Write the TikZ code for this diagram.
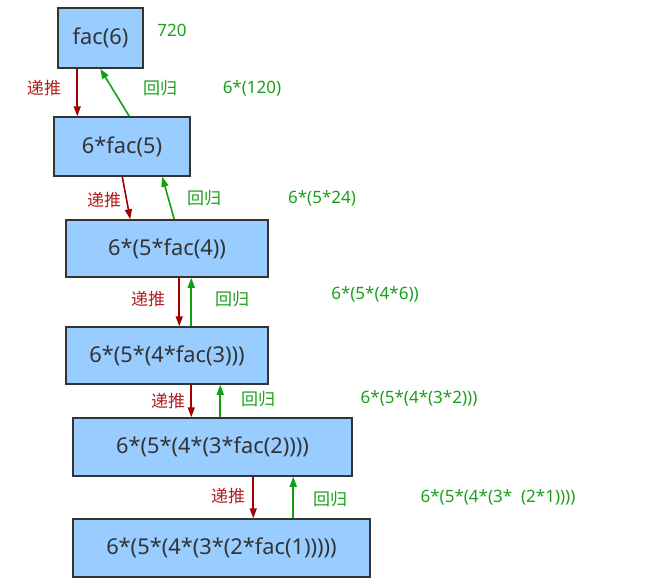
\documentclass[tikz,border=0pt]{standalone}
\usepackage{fontspec}
\setmainfont{Noto Sans}
\newfontfamily\cjk{Noto Sans CJK SC}
\usetikzlibrary{arrows.meta}
\definecolor{boxfill}{HTML}{99CCFF}
\definecolor{boxline}{HTML}{333333}
\definecolor{redarr}{HTML}{A00000}
\definecolor{redtxt}{HTML}{B02020}
\definecolor{grnarr}{HTML}{10A010}
\definecolor{grntxt}{HTML}{1AA01A}
\tikzset{
  box/.style={draw=boxline, line width=1.5pt, fill=boxfill, inner sep=0pt, anchor=center,
              font=\fontsize{21.8}{24}\selectfont, text=boxline},
  down/.style={draw=redarr, line width=1.6pt, -{Triangle[length=10pt,width=7pt]}},
  up/.style={draw=grnarr, line width=1.6pt, -{Triangle[length=10pt,width=7pt]}},
  dlab/.style={font=\cjk\fontsize{17}{18}\selectfont, text=redtxt, inner sep=0pt},
  ulab/.style={font=\cjk\fontsize{17}{18}\selectfont, text=grntxt, inner sep=0pt},
  vlab/.style={font=\fontsize{17}{19}\selectfont, text=grntxt, inner sep=0pt},
}
\begin{document}
\begin{tikzpicture}[x=1pt,y=-1pt]
\useasboundingbox (0,0) rectangle (655,581);
\node[box, minimum width=85pt, minimum height=60pt] (b1) at (100.5,38) {fac(6)};
\node[box, minimum width=136pt, minimum height=59pt] (b2) at (122,146.5) {6*fac(5)};
\node[box, minimum width=202pt, minimum height=57pt] (b3) at (167,248.5) {6*(5*fac(4))};
\node[box, minimum width=202pt, minimum height=57pt] (b4) at (167,355.5) {6*(5*(4*fac(3)))};
\node[box, minimum width=279pt, minimum height=58pt] (b5) at (212.5,447) {6*(5*(4*(3*fac(2))))};
\node[box, minimum width=297pt, minimum height=58pt] (b6) at (221.5,548) {6*(5*(4*(3*(2*fac(1)))))};

\draw[down] ([xshift=20pt]b1.south west) -- ([xshift=24pt]b2.north west);
\draw[up] ([xshift=76pt]b2.north west) -- ([xshift=43pt]b1.south west);
\draw[down] ([xshift=69pt]b2.south west) -- ([xshift=65pt]b3.north west);
\draw[up] ([xshift=109pt]b3.north west) -- ([xshift=109pt]b2.south west);
\draw[down] ([xshift=114pt]b3.south west) -- ([xshift=114pt]b4.north west);
\draw[up] ([xshift=126pt]b4.north west) -- ([xshift=126pt]b3.south west);
\draw[down] ([xshift=126pt]b4.south west) -- ([xshift=119pt]b5.north west);
\draw[up] ([xshift=148pt]b5.north west) -- ([xshift=155pt]b4.south west);
\draw[down] ([xshift=181pt]b5.south west) -- ([xshift=181pt]b6.north west);
\draw[up] ([xshift=221pt]b6.north west) -- ([xshift=221pt]b5.south west);

\node[dlab] (d1) at (44,88) {递推};
\node[dlab] (d2) at (104,200) {递推};
\node[dlab] (d3) at (148,299) {递推};
\node[dlab] (d4) at (168,401) {递推};
\node[dlab] (d5) at (228,496) {递推};

\node[ulab] (u1) at (160,88) {回归};
\node[ulab] (u2) at (204,198) {回归};
\node[ulab] (u3) at (232,299) {回归};
\node[ulab] (u4) at (258,399) {回归};
\node[ulab] (u5) at (330,499) {回归};

\node[vlab] (v1) at (172,30) {720};
\node[vlab] (v2) at (252,88) {6*(120)};
\node[vlab] (v3) at (322,198) {6*(5*24)};
\node[vlab] (v4) at (375,294) {6*(5*(4*6))};
\node[vlab] (v5) at (419,398) {6*(5*(4*(3*2)))};
\node[vlab] (v6) at (498,497) {6*(5*(4*(3*\ \ (2*1))))};
\end{tikzpicture}
\end{document}
